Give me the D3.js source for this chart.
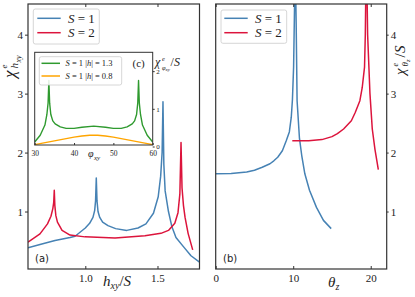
<!DOCTYPE html>
<html>
<head>
<meta charset="utf-8">
<script src="https://cdn.jsdelivr.net/npm/d3@7/dist/d3.min.js"></script>
<style>
body { margin: 0; background: #fff; }
text { font-family: "Liberation Serif", "DejaVu Serif", serif; fill: #222; }
text.sans { font-family: "DejaVu Sans", sans-serif; }
</style>
</head>
<body>
<div id="chart"></div>
<script>
// panel (a): chi_h vs h_xy/S
var hS1 = [0.603, 0.686, 0.79, 0.894, 0.929, 1.0, 1.03, 1.053, 1.065, 1.071, 1.076, 1.081, 1.088, 1.1, 1.12, 1.157, 1.21, 1.287, 1.365, 1.42, 1.472, 1.505, 1.522, 1.532, 1.538, 1.544, 1.553, 1.576, 1.6, 1.628, 1.681, 1.732, 1.791];
var chiS1 = [0.385, 0.44, 0.51, 0.56, 0.58, 0.72, 0.8, 0.9, 1.02, 1.18, 1.57, 1.18, 1.0, 0.9, 0.82, 0.76, 0.71, 0.68, 0.72, 0.79, 0.97, 1.25, 1.6, 2.0, 2.86, 1.8, 1.35, 1.0, 0.74, 0.56, 0.4, 0.25, 0.14];
var hS2 = [0.603, 0.686, 0.738, 0.762, 0.775, 0.781, 0.785, 0.789, 0.796, 0.807, 0.839, 0.894, 0.998, 1.206, 1.413, 1.524, 1.576, 1.62, 1.642, 1.655, 1.663, 1.67, 1.68, 1.691, 1.712, 1.744];
var chiS2 = [0.48, 0.62, 0.79, 0.92, 1.05, 1.15, 1.36, 1.1, 0.93, 0.82, 0.68, 0.6, 0.57, 0.55, 0.59, 0.63, 0.68, 0.8, 0.98, 1.3, 2.17, 1.4, 1.1, 0.9, 0.63, 0.35];

// panel (b): chi_theta vs theta_z
var thS1 = [0, 2, 4, 5, 6, 7, 7.5, 8, 8.6, 9.1, 9.5, 9.75, 9.9, 10.05, 10.15, 10.22, 10.3, 10.38, 10.5, 10.8, 11.1, 11.5, 12.1, 13.0, 13.9, 14.9];
var chiThS1 = [1.64, 1.645, 1.67, 1.7, 1.75, 1.81, 1.86, 1.92, 2.03, 2.2, 2.35, 2.6, 2.9, 3.45, 4.3, 4.9, 4.9, 4.2, 2.88, 2.25, 1.95, 1.64, 1.36, 1.07, 0.85, 0.71];
var thS2 = [9.88, 12, 13.7, 15, 15.7, 16.5, 17.5, 18, 18.6, 18.9, 19.2, 19.3, 19.38, 19.5, 19.6, 19.9, 20.2, 20.55, 20.98];
var chiThS2 = [2.2, 2.2, 2.22, 2.27, 2.32, 2.4, 2.54, 2.68, 2.88, 3.1, 3.45, 4.0, 4.9, 4.9, 4.0, 3.0, 2.4, 2.05, 1.71];

// inset (c): chi_phi vs phi_xy
var phiH13 = [30, 31.4, 32.6, 33.1, 33.4, 33.6, 33.8, 34.1, 34.6, 35.2, 36.5, 38, 40, 42, 45, 48, 50, 52, 53.5, 54.8, 55.4, 55.9, 56.2, 56.4, 56.6, 56.9, 57.4, 58.6, 60];
var chiH13 = [0.12, 0.3, 0.57, 0.85, 1.15, 1.75, 1.15, 0.85, 0.68, 0.6, 0.52, 0.48, 0.48, 0.51, 0.54, 0.51, 0.48, 0.48, 0.52, 0.6, 0.68, 0.85, 1.15, 1.75, 1.15, 0.85, 0.57, 0.3, 0.12];
var phiH08 = [30, 32, 34, 36, 38, 40, 42, 44, 45, 46, 48, 50, 52, 54, 56, 58, 60];
var chiH08 = [0.05, 0.09, 0.13, 0.17, 0.21, 0.25, 0.28, 0.3, 0.3, 0.3, 0.28, 0.25, 0.21, 0.17, 0.13, 0.09, 0.05];

var ticksMainY = [1, 2, 3, 4];
var ticksHxy = [1.0, 1.5];
var ticksTheta = [0, 10, 20];
var ticksPhi = [30, 40, 50, 60];
var ticksInsetY = [0, 1, 2];

var blue = "#4682b4", red = "#dc143c", green = "#2f9a2f", orange = "#ffa500";

var svg = d3.select("#chart").append("svg").attr("width", 415).attr("height", 297);

var xA = d3.scaleLinear().domain([0.603, 1.791]).range([28, 199.5]);
var yA = d3.scaleLinear().domain([0.025, 4.52]).range([269, 4]);
var xB = d3.scaleLinear().domain([0, 22.06]).range([215.7, 386.7]);
var yB = d3.scaleLinear().domain([0.025, 4.52]).range([269, 4]);
var xC = d3.scaleLinear().domain([30, 60]).range([34.7, 152.7]);
var yC = d3.scaleLinear().domain([0.04, 2.5]).range([145, 52.3]);

function zip(xs, ys) { return xs.map(function (d, i) { return [d, ys[i]]; }); }

function clip(id, x, y) {
  svg.append("clipPath").attr("id", id).append("rect")
    .attr("x", x.range()[0]).attr("y", y.range()[1])
    .attr("width", x.range()[1] - x.range()[0]).attr("height", y.range()[0] - y.range()[1]);
}

function curve(x, y, xs, ys, color, clipId, w) {
  var line = d3.line().x(function (d) { return x(d[0]); }).y(function (d) { return y(d[1]); });
  svg.append("path").datum(zip(xs, ys))
    .attr("d", line).attr("fill", "none").attr("stroke", color)
    .attr("stroke-width", w || 1.5).attr("stroke-linejoin", "round")
    .attr("clip-path", "url(#" + clipId + ")");
}

function frame(x, y, w) {
  svg.append("rect")
    .attr("x", x.range()[0]).attr("y", y.range()[1])
    .attr("width", x.range()[1] - x.range()[0]).attr("height", y.range()[0] - y.range()[1])
    .attr("fill", "none").attr("stroke", "#333").attr("stroke-width", w || 1.2);
}

function styleAxis(g, size) {
  g.select(".domain").remove();
  g.selectAll(".tick line").attr("stroke", "#333");
  g.selectAll(".tick text").attr("font-size", size + "px").attr("fill", "#222");
}

function legend(x, y, w, h, items, lx, tx, size) {
  svg.append("rect").attr("x", x).attr("y", y).attr("width", w).attr("height", h)
    .attr("rx", 2).attr("fill", "#fff").attr("fill-opacity", 0.85).attr("stroke", "#ccc").attr("stroke-width", 0.8);
  items.forEach(function (it) {
    svg.append("line").attr("x1", lx[0]).attr("x2", lx[1]).attr("y1", it.y).attr("y2", it.y)
      .attr("stroke", it.color).attr("stroke-width", 1.5);
    var t = svg.append("text").attr("x", tx).attr("y", it.y + size * 0.33).attr("font-size", size + "px");
    it.parts.forEach(function (p) {
      t.append("tspan").attr("font-style", p[1] ? "italic" : "normal").text(p[0]);
    });
  });
}

// ---- panel (a)
clip("clipA", xA, yA);
curve(xA, yA, hS1, chiS1, blue, "clipA");
curve(xA, yA, hS2, chiS2, red, "clipA");
frame(xA, yA);
styleAxis(svg.append("g").attr("transform", "translate(0,269)")
  .call(d3.axisBottom(xA).tickValues(ticksHxy).tickFormat(d3.format(".1f")).tickSizeInner(-3).tickSizeOuter(0).tickPadding(5)), 11);
styleAxis(svg.append("g").attr("transform", "translate(0,4)")
  .call(d3.axisTop(xA).tickValues(ticksHxy).tickFormat("").tickSizeInner(-3).tickSizeOuter(0)), 11);
styleAxis(svg.append("g").attr("transform", "translate(28,0)")
  .call(d3.axisLeft(yA).tickValues(ticksMainY).tickFormat(d3.format("d")).tickSizeInner(3).tickSizeOuter(0).tickPadding(2)), 11);

legend(33.3, 9, 66, 35, [
  { y: 18.3, color: blue, parts: [["S", true], [" = 1", false]] },
  { y: 32.7, color: red, parts: [["S", true], [" = 2", false]] }
], [37.3, 60.7], 68, 13);

svg.append("text").attr("class", "sans").attr("x", 35).attr("y", 262).attr("font-size", "10px").text("(a)");

// ---- inset (c)
svg.append("rect").attr("x", 34.7).attr("y", 52.3).attr("width", 118).attr("height", 92.7).attr("fill", "#fff");
clip("clipC", xC, yC);
curve(xC, yC, phiH13, chiH13, green, "clipC", 1.4);
curve(xC, yC, phiH08, chiH08, orange, "clipC", 1.4);
frame(xC, yC, 1);
styleAxis(svg.append("g").attr("transform", "translate(0,145)")
  .call(d3.axisBottom(xC).tickValues(ticksPhi).tickFormat(d3.format("d")).tickSizeInner(-2).tickSizeOuter(0).tickPadding(6)), 7.5);
styleAxis(svg.append("g").attr("transform", "translate(152.7,0)")
  .call(d3.axisRight(yC).tickValues(ticksInsetY).tickFormat(d3.format("d")).tickSizeInner(2).tickSizeOuter(0).tickPadding(1.5)), 7);

legend(39.3, 56.7, 82.4, 28.3, [
  { y: 63.3, color: green, parts: [["S", true], [" = 1 |", false], ["h", true], ["| = 1.3", false]] },
  { y: 76, color: orange, parts: [["S", true], [" = 1 |", false], ["h", true], ["| = 0.8", false]] }
], [41.5, 60], 65.5, 8.5);

svg.append("text").attr("x", 132.5).attr("y", 67).attr("font-size", "11px").text("(c)");

// inset y label chi^e_{phi_xy}/S
var lc = svg.append("g").attr("transform", "translate(155,66)");
lc.append("text").attr("x", 0).attr("y", 0).attr("font-size", "12px").attr("font-style", "italic").text("χ");
lc.append("text").attr("x", 7).attr("y", -5).attr("font-size", "6.5px").attr("font-style", "italic").text("e");
lc.append("text").attr("x", 7).attr("y", 3.5).attr("font-size", "6.5px").attr("font-style", "italic").text("φ");
lc.append("text").attr("x", 10.5).attr("y", 5).attr("font-size", "5px").attr("font-style", "italic").text("xy");
lc.append("text").attr("x", 15.5).attr("y", 0).attr("font-size", "12px").text("/");
lc.append("text").attr("x", 19).attr("y", 0).attr("font-size", "12px").attr("font-style", "italic").text("S");

// inset x label phi_xy
svg.append("text").attr("x", 88).attr("y", 157).attr("font-size", "10px").attr("font-style", "italic").text("φ");
svg.append("text").attr("x", 94).attr("y", 159.5).attr("font-size", "7px").attr("font-style", "italic").text("xy");

// ---- panel (b)
clip("clipB", xB, yB);
curve(xB, yB, thS1, chiThS1, blue, "clipB");
curve(xB, yB, thS2, chiThS2, red, "clipB");
frame(xB, yB);
styleAxis(svg.append("g").attr("transform", "translate(0,269)")
  .call(d3.axisBottom(xB).tickValues(ticksTheta).tickFormat(d3.format("d")).tickSizeInner(-3).tickSizeOuter(0).tickPadding(5)), 11);
styleAxis(svg.append("g").attr("transform", "translate(0,4)")
  .call(d3.axisTop(xB).tickValues(ticksTheta).tickFormat("").tickSizeInner(-3).tickSizeOuter(0)), 11);
styleAxis(svg.append("g").attr("transform", "translate(386.7,0)")
  .call(d3.axisRight(yB).tickValues(ticksMainY).tickFormat(d3.format("d")).tickSizeInner(2).tickSizeOuter(0).tickPadding(2)), 11);

legend(221, 10, 65.7, 33.3, [
  { y: 18.3, color: blue, parts: [["S", true], [" = 1", false]] },
  { y: 32.7, color: red, parts: [["S", true], [" = 2", false]] }
], [224.3, 247.7], 255, 13);

svg.append("text").attr("class", "sans").attr("x", 223).attr("y", 262).attr("font-size", "10px").text("(b)");

// ---- axis titles
var xa = svg.append("text").attr("x", 103).attr("y", 286).attr("font-size", "15px");
xa.append("tspan").attr("font-style", "italic").text("h");
xa.append("tspan").attr("font-style", "italic").attr("font-size", "10px").attr("dy", 3).text("xy");
xa.append("tspan").attr("dy", -3).text("/");
xa.append("tspan").attr("font-style", "italic").text("S");

var xb = svg.append("text").attr("x", 328).attr("y", 287).attr("font-size", "15px");
xb.append("tspan").attr("font-style", "italic").text("θ");
xb.append("tspan").attr("font-style", "italic").attr("font-size", "10px").attr("dy", 3).text("z");

// left y title chi^e_{h_xy}
var la = svg.append("g").attr("transform", "translate(15,78) rotate(-90)");
la.append("text").attr("x", 0).attr("y", 0).attr("font-size", "17px").attr("font-style", "italic").text("χ");
la.append("text").attr("x", 9.5).attr("y", -8).attr("font-size", "9px").attr("font-style", "italic").text("e");
la.append("text").attr("x", 9.5).attr("y", 3).attr("font-size", "11px").attr("font-style", "italic").text("h");
la.append("text").attr("x", 15.5).attr("y", 5.5).attr("font-size", "8px").attr("font-style", "italic").text("xy");

// right y title chi^e_{theta_z}/S
var lb = svg.append("g").attr("transform", "translate(405,75) rotate(-90)");
lb.append("text").attr("x", 0).attr("y", 0).attr("font-size", "15px").attr("font-style", "italic").text("χ");
lb.append("text").attr("x", 8.5).attr("y", -7).attr("font-size", "8px").attr("font-style", "italic").text("e");
lb.append("text").attr("x", 8.5).attr("y", 3).attr("font-size", "9px").attr("font-style", "italic").text("θ");
lb.append("text").attr("x", 13).attr("y", 5).attr("font-size", "6.5px").attr("font-style", "italic").text("z");
lb.append("text").attr("x", 17.5).attr("y", 0).attr("font-size", "15px").text("/");
lb.append("text").attr("x", 22).attr("y", 0).attr("font-size", "15px").attr("font-style", "italic").text("S");
</script>
</body>
</html>
